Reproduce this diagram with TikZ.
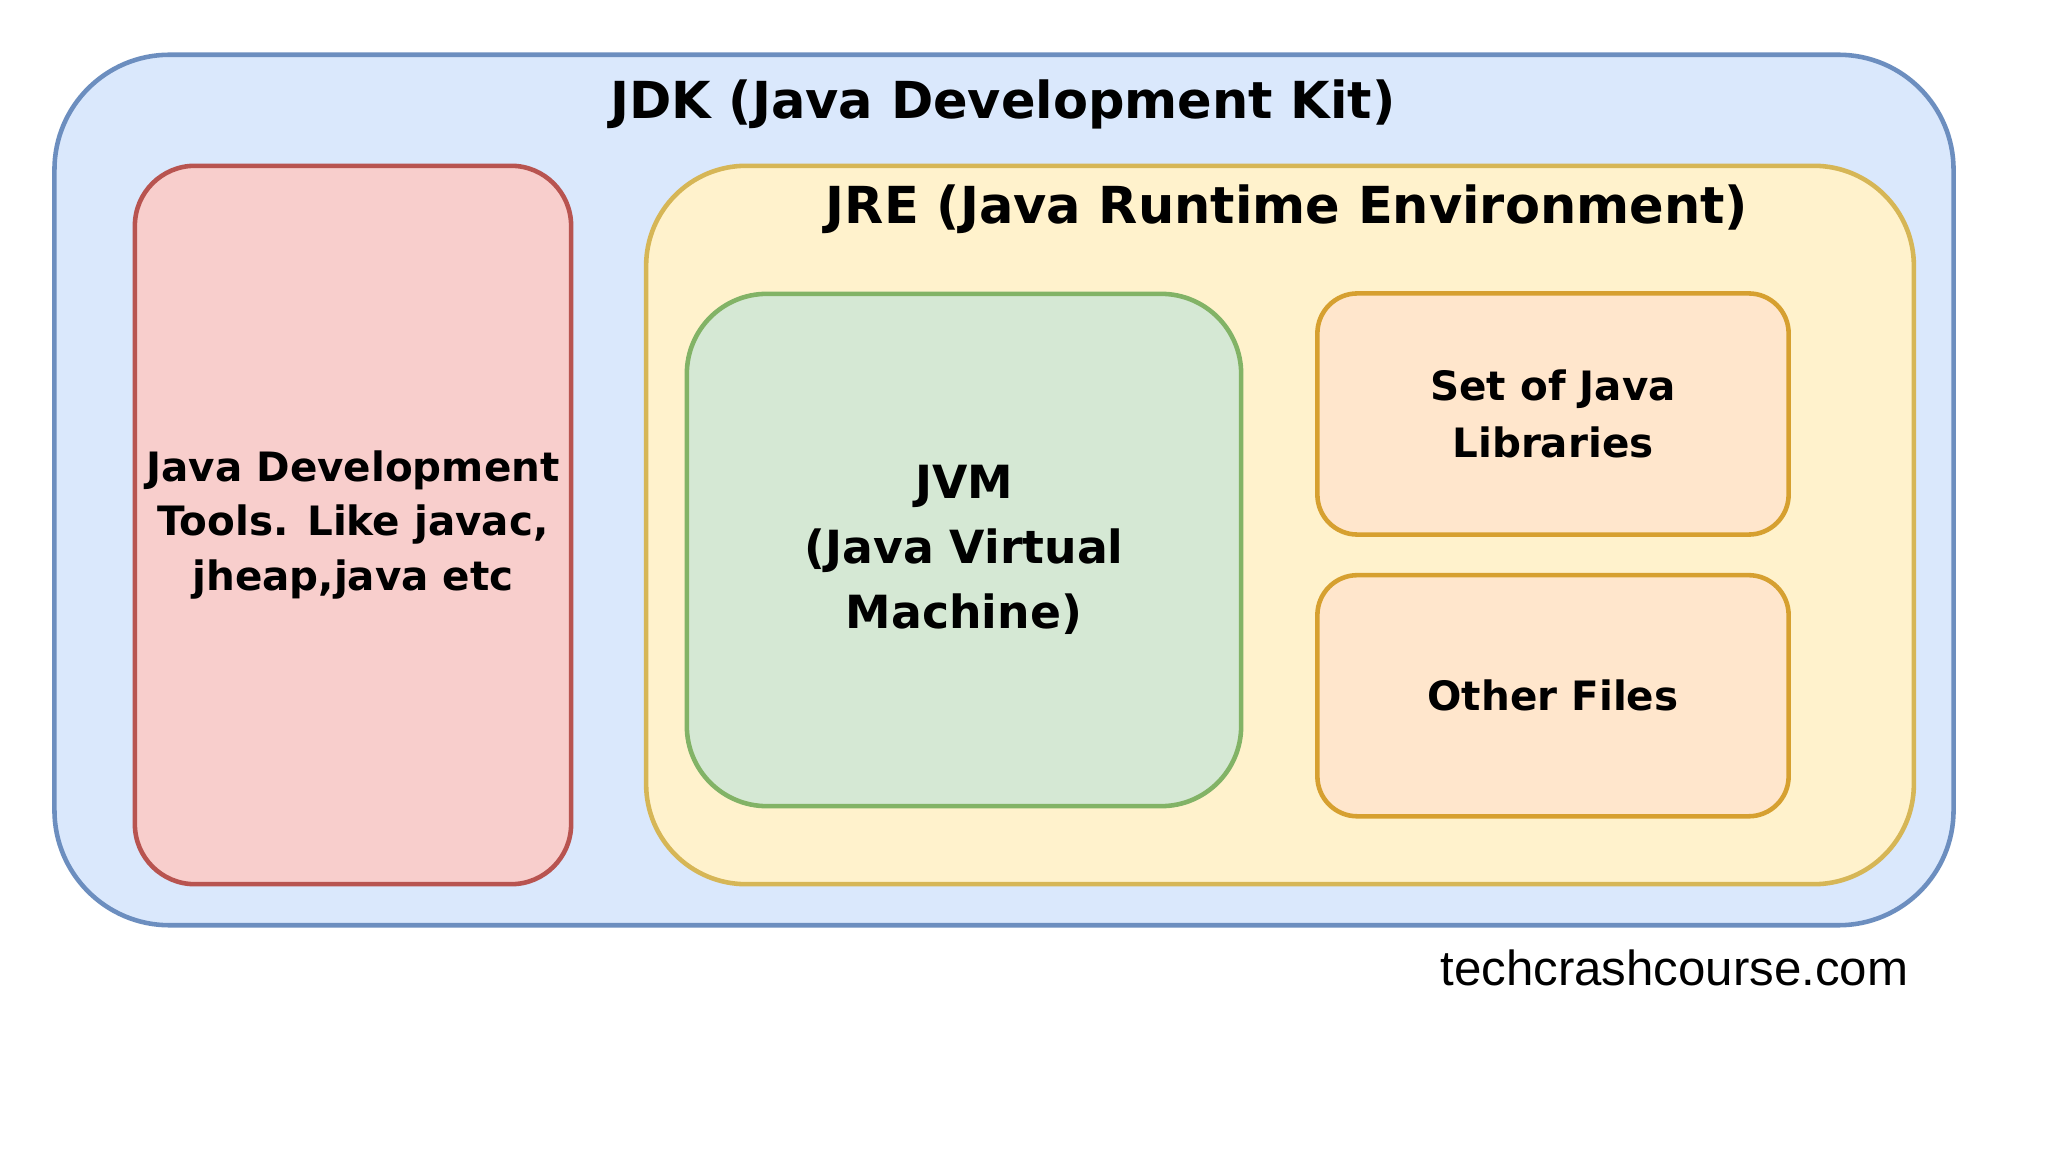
\documentclass[tikz,border=0pt]{standalone}
\usepackage{fontspec}
\setmainfont{DejaVu Sans}
\newfontfamily\sitefont{Liberation Sans}
\usetikzlibrary{positioning}

\definecolor{jdkfill}{HTML}{DAE8FC}
\definecolor{jdkline}{HTML}{6C8EBF}
\definecolor{toolfill}{HTML}{F8CECC}
\definecolor{toolline}{HTML}{B85450}
\definecolor{jrefill}{HTML}{FFF2CC}
\definecolor{jreline}{HTML}{D6B656}
\definecolor{jvmfill}{HTML}{D5E8D4}
\definecolor{jvmline}{HTML}{82B366}
\definecolor{libfill}{HTML}{FFE6CC}
\definecolor{libline}{HTML}{D6A030}

\begin{document}
\begin{tikzpicture}[x=0.01cm,y=-0.01cm,
    box/.style={draw,line width=1.3pt,align=center,inner sep=0pt},
    title/.style={font=\fontsize{14.5}{17}\selectfont\bfseries}]
  \fill[white] (0,0) rectangle (2048,1152);
  \useasboundingbox (0,0) rectangle (2048,1152);

  % outer and inner boxes
  \node[box,fill=jdkfill,draw=jdkline,rounded corners=1.15cm,
        minimum width=18.98cm,minimum height=8.70cm] (jdk) at (1004,490) {};
  \node[title] (jdktitle) at (1003,104) {JDK (Java Development Kit)};

  \node[box,fill=toolfill,draw=toolline,rounded corners=0.6cm,
        minimum width=4.36cm,minimum height=7.18cm,
        font=\fontsize{11.5}{15.6}\selectfont\bfseries] (tools) at (353,525)
        {Java Development\\Tools. Like javac,\\jheap,java etc};

  \node[box,fill=jrefill,draw=jreline,rounded corners=1.0cm,
        minimum width=12.67cm,minimum height=7.18cm] (jre) at (1280,525) {};
  \node[title] (jretitle) at (1287,209) {JRE (Java Runtime Environment)};

  \node[box,fill=jvmfill,draw=jvmline,rounded corners=0.8cm,
        minimum width=5.54cm,minimum height=5.12cm,
        font=\fontsize{13}{18.5}\selectfont\bfseries] (jvm) at (964,550)
        {JVM\\(Java Virtual\\Machine)};

  \node[box,fill=libfill,draw=libline,rounded corners=0.4cm,
        minimum width=4.71cm,minimum height=2.41cm,
        font=\fontsize{11.5}{16}\selectfont\bfseries] (libs) at (1553,414)
        {Set of Java\\Libraries};
  \node[box,fill=libfill,draw=libline,rounded corners=0.4cm,
        minimum width=4.71cm,minimum height=2.41cm,
        font=\fontsize{11.5}{16}\selectfont\bfseries,
        below=0.36cm of libs] (other) {Other Files};

  \node[anchor=east,inner sep=0pt,font=\sitefont\fontsize{14}{16}\selectfont]
        (site) at (1909,968) {techcrashcourse.com};
\end{tikzpicture}
\end{document}
